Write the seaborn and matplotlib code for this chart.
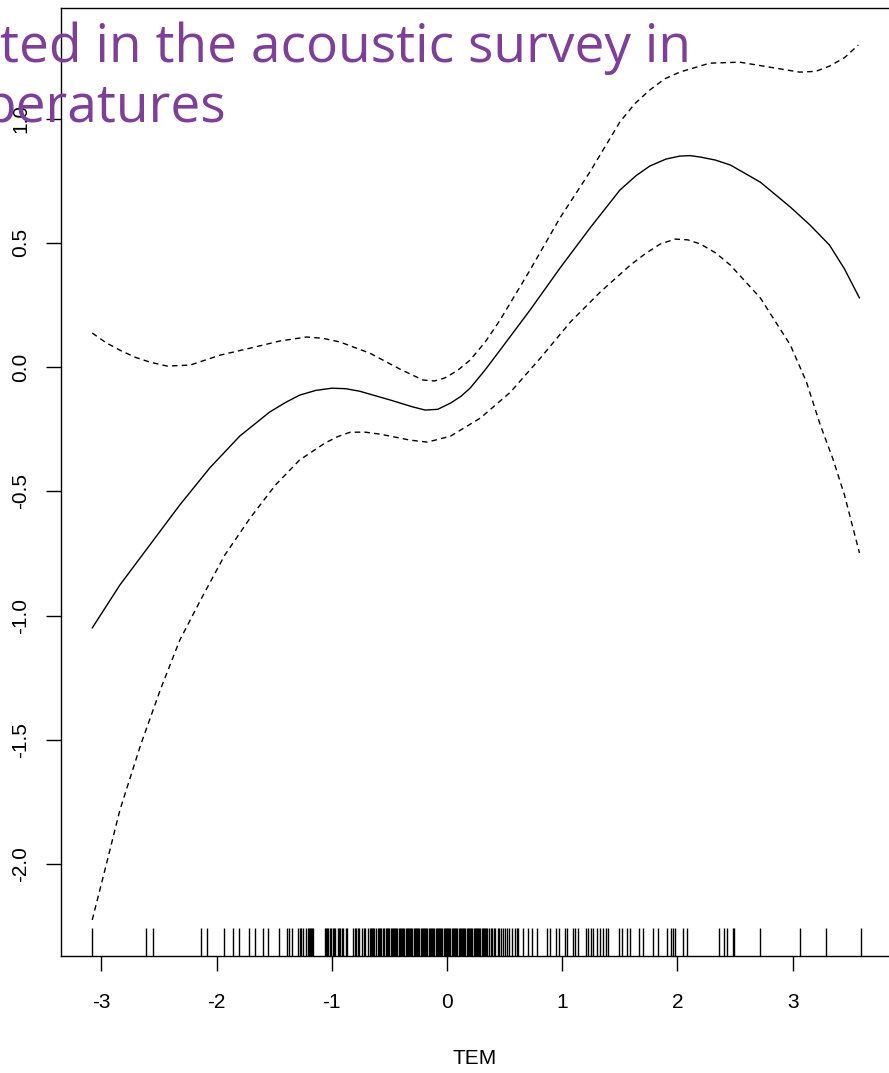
import numpy as np
import pandas as pd
import seaborn as sns
import matplotlib.pyplot as plt

# fitted smooth (solid) and its confidence band (dashed)
tem_fit = [-3.08, -2.84, -2.58, -2.32, -2.06, -1.80, -1.54, -1.40, -1.28, -1.14, -1.00,
           -0.88, -0.76, -0.49, -0.30, -0.19, -0.08, 0.03, 0.12, 0.20, 0.33, 0.46,
           0.72, 0.98, 1.24, 1.50, 1.64, 1.76, 1.90, 2.02, 2.11, 2.20, 2.33, 2.46,
           2.72, 2.98, 3.15, 3.32, 3.45, 3.58]
fit = [-1.050, -0.877, -0.716, -0.555, -0.406, -0.278, -0.181, -0.142, -0.113, -0.094, -0.085,
       -0.087, -0.097, -0.133, -0.160, -0.173, -0.170, -0.145, -0.118, -0.085, -0.012, 0.068,
       0.229, 0.398, 0.559, 0.712, 0.770, 0.809, 0.837, 0.849, 0.851, 0.845, 0.833, 0.813,
       0.744, 0.644, 0.572, 0.491, 0.395, 0.278]

tem_upper = [-3.08, -2.96, -2.84, -2.71, -2.58, -2.43, -2.23, -1.97, -1.71, -1.45, -1.22,
             -1.08, -0.93, -0.67, -0.41, -0.21, -0.11, -0.02, 0.09, 0.20, 0.33, 0.46,
             0.72, 0.98, 1.24, 1.50, 1.63, 1.76, 1.89, 2.02, 2.28, 2.54, 2.80, 3.06,
             3.20, 3.32, 3.45, 3.57]
upper = [0.137, 0.098, 0.068, 0.040, 0.020, 0.004, 0.008, 0.048, 0.076, 0.105, 0.121,
         0.116, 0.101, 0.056, -0.008, -0.052, -0.056, -0.044, -0.014, 0.028, 0.100, 0.189,
         0.390, 0.600, 0.785, 0.986, 1.060, 1.115, 1.160, 1.187, 1.223, 1.227, 1.207, 1.187,
         1.190, 1.211, 1.245, 1.296]

tem_lower = [-3.08, -2.97, -2.84, -2.66, -2.49, -2.32, -2.14, -1.93, -1.71, -1.49,
             -1.28, -1.06, -0.95, -0.84, -0.71, -0.58, -0.32, -0.17, 0.03, 0.29, 0.55, 0.81,
             1.07, 1.33, 1.59, 1.72, 1.85, 1.98, 2.09, 2.20, 2.33, 2.46, 2.72, 2.98, 3.12,
             3.24, 3.35, 3.45, 3.58]
lower = [-2.225, -2.024, -1.783, -1.521, -1.300, -1.099, -0.938, -0.757, -0.608, -0.475,
         -0.374, -0.306, -0.280, -0.262, -0.262, -0.270, -0.294, -0.302, -0.278, -0.205, -0.101, 0.036,
         0.181, 0.302, 0.410, 0.456, 0.495, 0.515, 0.512, 0.495, 0.460, 0.410, 0.278, 0.089, -0.060,
         -0.233, -0.370, -0.515, -0.748]

# observed TEM values shown as the rug
rug_tem = [-3.08, -2.61, -2.55, -2.14, -2.08, -1.94, -1.86, -1.81, -1.72, -1.67,
           -1.60, -1.55, -1.46, -1.39, -1.37, -1.35, -1.29, -1.28, -1.27, -1.25,
           -1.22, -1.21, -1.20, -1.19, -1.18, -1.17, -1.16,
           -1.06, -1.05, -1.04, -1.03, -1.02, -1.01, -0.99, -0.98, -0.97, -0.95,
           -0.94, -0.93, -0.91, -0.90, -0.88, -0.87,
           -0.82, -0.80, -0.79, -0.77, -0.76, -0.74, -0.72, -0.71, -0.69,
           -0.67, -0.66, -0.65, -0.64, -0.63, -0.62, -0.60, -0.59, -0.58, -0.57,
           -0.56, -0.55, -0.53, -0.52, -0.51, -0.50, -0.49, -0.48, -0.47, -0.46,
           -0.45, -0.44, -0.43, -0.42, -0.41, -0.40, -0.39, -0.38, -0.37, -0.36,
           -0.35, -0.34, -0.33, -0.32, -0.31, -0.30, -0.29, -0.28, -0.27, -0.26,
           -0.25, -0.24, -0.23, -0.22, -0.21, -0.20, -0.19, -0.18, -0.17, -0.16,
           -0.15, -0.14, -0.13, -0.12, -0.11, -0.10, -0.09, -0.08, -0.07, -0.06,
           -0.05, -0.04, -0.03, -0.02, -0.01, 0.00, 0.01, 0.02, 0.03, 0.04,
           0.05, 0.06, 0.07, 0.08, 0.09, 0.10, 0.11, 0.12, 0.13, 0.14,
           0.15, 0.16, 0.17, 0.18, 0.19, 0.20, 0.21, 0.22, 0.23, 0.24,
           0.25, 0.26, 0.27, 0.28, 0.29, 0.30, 0.31, 0.32, 0.33, 0.34,
           0.35, 0.36, 0.38, 0.39, 0.41, 0.42, 0.44, 0.45, 0.47, 0.49,
           0.50, 0.52, 0.54, 0.56, 0.59, 0.61, 0.62, 0.66, 0.70, 0.74, 0.78,
           0.87, 0.89, 0.95, 0.97, 1.02, 1.04, 1.09, 1.11, 1.14, 1.21, 1.22,
           1.25, 1.27, 1.30, 1.33, 1.35, 1.38, 1.40, 1.49, 1.52, 1.56,
           1.59, 1.67, 1.70, 1.79, 1.83, 1.91, 1.94, 1.96, 1.98, 2.05,
           2.08, 2.36, 2.40, 2.43, 2.48, 2.49, 2.72, 3.06, 3.29, 3.59]

x_ticks = [-3, -2, -1, 0, 1, 2, 3]
y_ticks = [-2.0, -1.5, -1.0, -0.5, 0.0, 0.5, 1.0]
title_lines = ["ted in the acoustic survey in", "peratures"]

sns.set_style("white")
plt.rcParams['font.family'] = ['Liberation Sans', 'DejaVu Sans']

fig = plt.figure(figsize=(8.89, 10.73), dpi=100)
ax = fig.add_axes([61 / 889, 1 - 956 / 1073, 1 - 61 / 889, (956 - 8) / 1073])

sns.lineplot(x=tem_fit, y=fit, ax=ax, color="black", lw=1.0, sort=False, estimator=None)
sns.lineplot(x=tem_upper, y=upper, ax=ax, color="black", lw=1.0, sort=False,
             estimator=None, dashes=False, linestyle=(0, (4, 3)))
sns.lineplot(x=tem_lower, y=lower, ax=ax, color="black", lw=1.0, sort=False,
             estimator=None, dashes=False, linestyle=(0, (4, 3)))
sns.rugplot(x=rug_tem, ax=ax, height=0.03, color="black", lw=0.9)

# 115.2 px per TEM unit, 248.5 px per unit on y
ax.set_xlim(-3.351, -3.351 + (889 - 61) / 115.2)
ax.set_ylim(-2.370, 1.445)
ax.set_xticks(x_ticks)
ax.set_xticklabels([str(t) for t in x_ticks])
ax.set_yticks(y_ticks)
ax.set_yticklabels([f"{t:.1f}" for t in y_ticks], rotation=90, va="center")
ax.tick_params(axis="both", direction="out", length=11, width=1.0, color="black",
               labelsize=15, labelcolor="black", left=True, bottom=True)
ax.tick_params(axis="x", pad=16)
ax.tick_params(axis="y", pad=11)
ax.set_xlabel("TEM", fontsize=15, labelpad=26, color="black")
ax.set_ylabel("")
for s in ax.spines.values():
    s.set_color("black")
    s.set_linewidth(1.0)
ax.spines["right"].set_visible(False)

purple = "#7D3F98"
fig.text(0 / 889, 1 - 62 / 1073, title_lines[0], fontsize=38.3, color=purple,
         family="Open Sans", ha="left", va="baseline")
fig.text(-16 / 889, 1 - 122 / 1073, title_lines[1], fontsize=38.3, color=purple,
         family="Open Sans", ha="left", va="baseline")

fig.savefig("out.png", dpi=100)
